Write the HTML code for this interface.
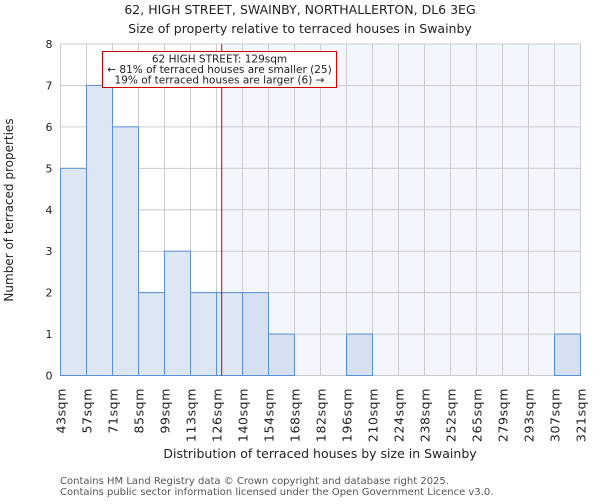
<!DOCTYPE html>
<html><head><meta charset="utf-8"><style>
body{margin:0;background:#fff;font-family:"DejaVu Sans","Liberation Sans",sans-serif;}
svg text{font-family:"DejaVu Sans","Liberation Sans",sans-serif;fill:#222;}
</style></head><body>
<svg id="chart" width="600" height="500" xmlns="http://www.w3.org/2000/svg">
<text x="300" y="14" text-anchor="middle" font-size="12.5">62, HIGH STREET, SWAINBY, NORTHALLERTON, DL6 3EG</text>
<text x="300" y="33" text-anchor="middle" font-size="12.5">Size of property relative to terraced houses in Swainby</text>
<g id="plot"></g>
<text x="320" y="458" text-anchor="middle" font-size="12.5">Distribution of terraced houses by size in Swainby</text>
<text transform="translate(13,210) rotate(-90)" text-anchor="middle" font-size="12">Number of terraced properties</text>
<text x="60" y="484" font-size="10" style="fill:#555">Contains HM Land Registry data © Crown copyright and database right 2025.</text>
<text x="60" y="495" font-size="10" style="fill:#555">Contains public sector information licensed under the Open Government Licence v3.0.</text>
</svg>
<script>
const binLabels=["43sqm","57sqm","71sqm","85sqm","99sqm","113sqm","126sqm","140sqm","154sqm","168sqm","182sqm","196sqm","210sqm","224sqm","238sqm","252sqm","265sqm","279sqm","293sqm","307sqm","321sqm"];
const counts=[5,7,6,2,3,2,2,2,1,0,0,1,0,0,0,0,0,0,0,1];
const yTicks=[0,1,2,3,4,5,6,7,8];
const markerBinPos=6.2;
const NS="http://www.w3.org/2000/svg";
const L=60.5,R=580.5,T=44,B=375.5,yMax=8;
const bw=(R-L)/counts.length;
const xs=i=>L+i*bw;
const ys=v=>B-(v/yMax)*(B-T);
const g=document.getElementById('plot');
function mk(t,a){const e=document.createElementNS(NS,t);for(const k in a)e.setAttribute(k,a[k]);g.appendChild(e);return e;}
const mx=xs(markerBinPos);
let e=mk('rect',{x:mx,y:T,width:R-mx,height:B-T,fill:'#f3f6fd'});


for(const t of yTicks){e=mk('line',{x1:L,x2:R,y1:ys(t),y2:ys(t),stroke:'#cccccc','stroke-width':1});


e=mk('text',{x:L-8,y:ys(t)+4,'text-anchor':'end','font-size':11});e.textContent=t;

}
for(let i=0;i<binLabels.length;i++){e=mk('line',{x1:xs(i),x2:xs(i),y1:T,y2:B,stroke:'#cccccc','stroke-width':1});


const tx=xs(i)+5;e=mk('text',{x:0,y:0,'text-anchor':'end','font-size':12.5,'letter-spacing':'0.6',transform:`translate(${tx},388) rotate(-90)`});e.textContent=binLabels[i];

}
counts.forEach((c,i)=>{if(!c)return;const right=xs(i)>=mx-1;
e=mk('rect',{x:xs(i),y:ys(c),width:bw,height:B-ys(c),fill:right?'#d5e1f3':'#dde7f4',stroke:'#5b8fd6','stroke-width':1});

});
e=mk('line',{x1:mx,x2:mx,y1:T,y2:B,stroke:'#cc0000','stroke-width':1});


e=mk('rect',{x:102.5,y:51.5,width:234,height:36,fill:'#fff',stroke:'#cc0000','stroke-width':1});


const ann=["62 HIGH STREET: 129sqm","← 81% of terraced houses are smaller (25)","19% of terraced houses are larger (6) →"];
ann.forEach((s,k)=>{e=mk('text',{x:219.5,y:62.5+k*10.5,'text-anchor':'middle','font-size':10.5});e.textContent=s;

});
</script>
</body></html>
